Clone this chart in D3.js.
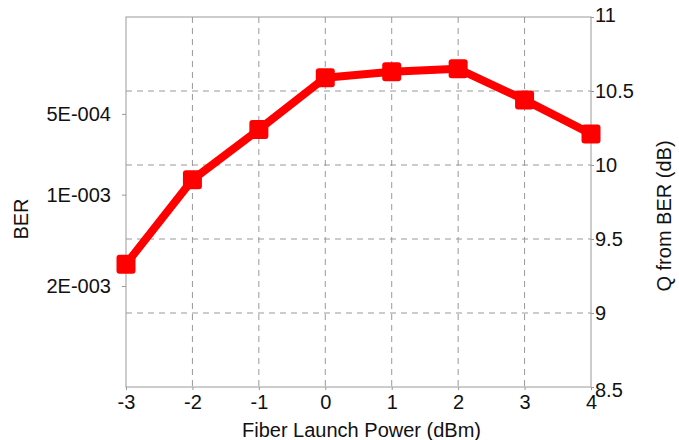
<!DOCTYPE html>
<html>
<head>
<meta charset="utf-8">
<script src="https://cdn.jsdelivr.net/npm/d3@7"></script>
<style>
  body { margin: 0; background: #fff; }
  text { font-family: "Liberation Sans", Arial, sans-serif; fill: #111; }
</style>
</head>
<body>
<div id="chart"></div>
<script>
// launch power (dBm) and measured Q from BER (dB)
var power = [-3, -2, -1, 0, 1, 2, 3, 4];
var qdb = [9.33, 9.90, 10.24, 10.59, 10.63, 10.65, 10.44, 10.21];
var qTicks = [8.5, 9, 9.5, 10, 10.5, 11];
var berTicks = [5e-4, 1e-3, 2e-3];
var berLabels = ["5E-004", "1E-003", "2E-003"];

var width = 679, height = 440;
var margin = {top: 17, right: 88, bottom: 53, left: 126};
var w = width - margin.left - margin.right,
    h = height - margin.top - margin.bottom;

// erfc approximation (Abramowitz & Stegun 7.1.26)
function erfc(x) {
  var t = 1 / (1 + 0.3275911 * x);
  var y = t * (0.254829592 + t * (-0.284496736 + t * (1.421413741 + t * (-1.453152027 + t * 1.061405429))));
  return y * Math.exp(-x * x);
}
// BER -> Q in dB, by bisection on BER = 0.5*erfc(Q/sqrt2)
function berToQdb(ber) {
  var lo = 0, hi = 10;
  for (var i = 0; i < 60; i++) {
    var mid = (lo + hi) / 2;
    if (0.5 * erfc(mid / Math.SQRT2) > ber) lo = mid; else hi = mid;
  }
  return 20 * Math.log10((lo + hi) / 2);
}

var svg = d3.select("#chart").append("svg")
  .attr("width", width).attr("height", height)
  .append("g")
  .attr("transform", "translate(" + margin.left + "," + margin.top + ")");

var x = d3.scaleLinear().domain([-3, 4]).range([0, w]);
var y = d3.scaleLinear().domain([8.5, 11]).range([h, 0]);

// grid
svg.append("g").selectAll("line.vg")
  .data(power.slice(1, -1)).enter().append("line")
  .attr("x1", function(d) { return x(d); }).attr("x2", function(d) { return x(d); })
  .attr("y1", 0).attr("y2", h)
  .attr("stroke", "#999").attr("stroke-width", 1).attr("stroke-dasharray", "6,5");
svg.append("g").selectAll("line.hg")
  .data(qTicks.slice(1, -1)).enter().append("line")
  .attr("x1", 0).attr("x2", w)
  .attr("y1", function(d) { return y(d); }).attr("y2", function(d) { return y(d); })
  .attr("stroke", "#999").attr("stroke-width", 1).attr("stroke-dasharray", "6,5");

// frame
svg.append("rect").attr("width", w).attr("height", h)
  .attr("fill", "none").attr("stroke", "#999").attr("stroke-width", 1);

// axes
var fs = "20px";
var xAxis = svg.append("g").attr("transform", "translate(0," + h + ")")
  .call(d3.axisBottom(x).tickValues(power).tickFormat(function(d) { return String(d); }).tickSize(3).tickPadding(4));
var yRight = svg.append("g").attr("transform", "translate(" + w + ",0)")
  .call(d3.axisRight(y).tickValues(qTicks).tickFormat(function(d) { return d; }).tickSize(3).tickPadding(1));
var yLeft = svg.append("g")
  .call(d3.axisLeft(y).tickValues(berTicks.map(berToQdb))
    .tickFormat(function(d, i) { return berLabels[i]; }).tickSize(4).tickPadding(11));
[xAxis, yRight, yLeft].forEach(function(a) {
  a.select(".domain").remove();
  a.selectAll(".tick line").attr("stroke", "#999");
  a.selectAll("text").style("font-size", fs).attr("fill", "#111");
});
xAxis.selectAll("text").attr("dy", "0.75em");
yRight.select(".tick:last-of-type text").attr("dy", "0.2em");
yRight.select(".tick:first-of-type text").attr("dy", "0.45em");

// titles
svg.append("text").attr("x", w / 2 + 3).attr("y", h + 50)
  .attr("text-anchor", "middle").style("font-size", fs).text("Fiber Launch Power (dBm)");
svg.append("text").attr("transform", "translate(" + (-98) + "," + (h / 2 + 17) + ") rotate(-90)")
  .attr("text-anchor", "middle").style("font-size", fs).text("BER");
svg.append("text").attr("transform", "translate(" + (w + 80) + "," + (h / 2 + 14) + ") rotate(-90)")
  .attr("text-anchor", "middle").style("font-size", fs).text("Q from BER (dB)");

// series
var line = d3.line()
  .x(function(d, i) { return x(power[i]); })
  .y(function(d) { return y(d); });
svg.append("path").datum(qdb).attr("d", line)
  .attr("fill", "none").attr("stroke", "#ff0000").attr("stroke-width", 8)
  .attr("stroke-linejoin", "round");
var ms = 19;
svg.append("g").selectAll("rect.mk").data(qdb).enter().append("rect")
  .attr("x", function(d, i) { return x(power[i]) - ms / 2; })
  .attr("y", function(d) { return y(d) - ms / 2; })
  .attr("width", ms).attr("height", ms).attr("rx", 3)
  .attr("fill", "#ff0000");
</script>
</body>
</html>
